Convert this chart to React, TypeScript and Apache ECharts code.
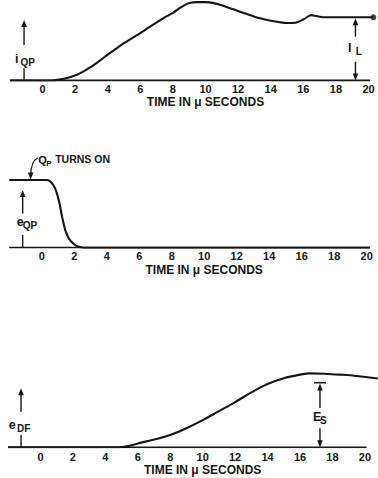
import React, { useEffect, useRef } from "react";
import * as echarts from "echarts";

// ---------------- data ----------------
const TIME_TICKS = [0, 2, 4, 6, 8, 10, 12, 14, 16, 18, 20];
const X_TITLE = "TIME IN \u03bc SECONDS";

// Panel 1: transistor current i_QP, normalised to the load current I_L = 1
const T_IQP = [-2, 0.6, 1, 1.5, 2, 2.5, 3, 3.5, 4, 4.5, 5, 5.5, 6, 6.5, 7, 7.5, 8, 8.5, 9, 9.5, 10, 10.5, 11, 11.5, 12, 12.5, 13, 13.5, 14, 14.5, 15, 15.5, 16, 16.5, 16.8, 17.2, 20.3];
const I_QP = [0, 0, 0.015, 0.04, 0.08, 0.14, 0.22, 0.31, 0.41, 0.5, 0.59, 0.67, 0.75, 0.835, 0.92, 1.0, 1.07, 1.16, 1.225, 1.24, 1.24, 1.225, 1.19, 1.145, 1.1, 1.055, 1.01, 0.975, 0.945, 0.925, 0.91, 0.915, 0.965, 1.035, 1.02, 1.0, 1.0];

// Panel 2: transistor voltage e_QP, normalised to its off-state value
const T_EQP = [-2, 0.3, 0.5, 0.7, 0.9, 1.1, 1.25, 1.45, 1.6, 1.75, 2.0, 2.2, 2.6, 20.2];
const E_QP = [1, 1, 0.985, 0.93, 0.83, 0.65, 0.46, 0.26, 0.17, 0.11, 0.05, 0.02, 0, 0];

// Panel 3: diode voltage e_DF, normalised to the supply E_S = 1
const T_EDF = [-2, 4.8, 5.5, 6, 7, 8, 9, 10, 11, 12, 13, 14, 15, 16, 16.6, 17.5, 18.5, 19.5, 20.8];
const E_DF = [0, 0, 0.025, 0.06, 0.12, 0.19, 0.295, 0.42, 0.56, 0.7, 0.85, 0.98, 1.07, 1.125, 1.145, 1.14, 1.125, 1.105, 1.065];

const I_L = 1;
const E_S = 1;
const IL_AT = 19.2;
const ES_AT = 17.23;
const TURN_ON_AT = -0.68;
const BASE_START = -2;
const BASE_END = [20.1, 20.2, 20.1];

// ---------------- styling helpers ----------------
const INK = "#161616";
const FONT = "'Liberation Sans', Arial, sans-serif";
const LW = 1.4;

const zip = (t: number[], v: number[]) => t.map((x, i) => [x, v[i]]);

function vline(x: number, y1: number, y2: number) {
  return { type: "line", shape: { x1: x, y1, x2: x, y2 }, style: { stroke: INK, lineWidth: LW } };
}
function head(x: number, tipY: number, dir: "up" | "down") {
  const h = 7, w = 2.8;
  const by = dir === "up" ? tipY + h : tipY - h;
  return { type: "polygon", shape: { points: [[x, tipY], [x - w, by], [x + w, by]] }, style: { fill: INK } };
}
function text(x: number, y: number, s: string, size: number, align = "left") {
  return {
    type: "text",
    style: { x, y, text: s, fill: INK, font: `bold ${size}px ${FONT}`, align, verticalAlign: "middle" },
  };
}
function subLabel(x: number, lc: number, main: string, sub: string, subDx: number) {
  return [text(x, lc - 1.5, main, 12.5), text(x + subDx, lc + 2, sub, 10)];
}
function yArrow(api: any, t: number, vTip: number, vLabel: number, upGap: number, downGap: number,
  main: string, sub: string, dx: number, subDx: number) {
  const [x, base] = api.coord([t, 0]);
  const tip = api.coord([t, vTip])[1];
  const lc = api.coord([t, vLabel])[1];
  return [
    vline(x, tip + 3, lc - upGap),
    head(x, tip, "up"),
    vline(x, lc + downGap, base),
    ...subLabel(x + dx, lc, main, sub, subDx),
  ];
}
function title(api: any, offset: number) {
  const [x, y] = api.coord([10, 0]);
  return text(x, y + offset, X_TITLE, 12, "center");
}

// ---------------- component ----------------
export default function App() {
  const ref = useRef<HTMLDivElement>(null);
  useEffect(() => {
    if (!ref.current) return;
    const chart = echarts.init(ref.current, undefined, { renderer: "svg" });

    const grids = [
      { left: 9.9, right: 1.35, top: 0, height: 80.5 },
      { left: 9.2, right: 3.2, top: 166.5, height: 81.2 },
      { left: 8.06, right: 0.14, top: 369.8, height: 77.5 },
    ];
    const xMax = [20.5, 20.5, 20.8];
    const yMax = [1.274, 1.2, 1.2];
    const margins = [3, 3, 4];

    const xAxes = grids.map((_, i) => ({
      type: "value",
      gridIndex: i,
      min: -2,
      max: xMax[i],
      interval: 2,
      axisLine: { show: false },
      axisTick: { show: false },
      splitLine: { show: false },
      axisLabel: {
        customValues: TIME_TICKS,
        formatter: (v: number) => (TIME_TICKS.includes(v) ? String(v) : ""),
        margin: margins[i],
        color: INK,
        fontSize: 11,
        fontWeight: "bold",
        fontFamily: FONT,
      },
    }));
    const yAxes = grids.map((_, i) => ({
      type: "value", gridIndex: i, min: 0, max: yMax[i], show: false, splitLine: { show: false },
    }));

    const curve = (i: number, data: number[][]) => ({
      type: "line", xAxisIndex: i, yAxisIndex: i, data, showSymbol: false, smooth: 0.35,
      lineStyle: { color: INK, width: 2.1 }, silent: true,
    });
    const baseline = (i: number) => ({
      type: "line", xAxisIndex: i, yAxisIndex: i, showSymbol: false,
      data: [[BASE_START, 0], [BASE_END[i], 0]],
      lineStyle: { color: INK, width: 1.8 }, silent: true,
    });

    const series: any[] = [
      baseline(0), baseline(1), baseline(2),
      curve(0, zip(T_IQP, I_QP)),
      curve(1, zip(T_EQP, E_QP)),
      curve(2, zip(T_EDF, E_DF)),
      {
        type: "scatter", xAxisIndex: 0, yAxisIndex: 0, silent: true,
        data: [[T_IQP[T_IQP.length - 1], I_QP[I_QP.length - 1]]],
        symbol: "circle", symbolSize: 6, itemStyle: { color: INK },
      },
      // panel 1 annotations
      {
        type: "custom", xAxisIndex: 0, yAxisIndex: 0, silent: true, data: [[0, 0]],
        renderItem: (_p: any, api: any) => {
          const [x, base] = api.coord([IL_AT, 0]);
          const top = api.coord([IL_AT, I_L])[1] + 1;
          const lc = api.coord([IL_AT, 0.498])[1];
          return {
            type: "group",
            children: [
              ...yArrow(api, -1.13, 0.957, 0.324, 15, 8.3, "i", "QP", -9, 5.5),
              head(x, top, "up"), vline(x, top + 3, lc - 12.3),
              vline(x, lc + 12.7, base - 3), head(x, base, "down"),
              ...subLabel(x - 7.5, lc, "I", "L", 7.7),
              title(api, 21.8),
            ],
          };
        },
      },
      // panel 2 annotations
      {
        type: "custom", xAxisIndex: 1, yAxisIndex: 1, silent: true, data: [[0, 0]],
        renderItem: (_p: any, api: any) => {
          const [tx, ty] = api.coord([TURN_ON_AT, 1]);
          return {
            type: "group",
            children: [
              ...yArrow(api, -1.17, 0.852, 0.357, 10, 11.5, "e", "QP", -6, 6),
              {
                type: "bezierCurve",
                shape: { x1: tx + 7, y1: ty - 22, cpx1: tx + 0.5, cpy1: ty - 19, x2: tx, y2: ty - 5 },
                style: { stroke: INK, lineWidth: 1.3, fill: "none" },
              },
              head(tx, ty - 0.5, "down"),
              text(tx + 7.5, ty - 20, "Q", 11),
              text(tx + 15.5, ty - 16.5, "P", 8),
              text(tx + 24.5, ty - 21.5, "TURNS ON", 10.5),
              title(api, 22),
            ],
          };
        },
      },
      // panel 3 annotations
      {
        type: "custom", xAxisIndex: 2, yAxisIndex: 2, silent: true, data: [[0, 0]],
        renderItem: (_p: any, api: any) => {
          const [x, base] = api.coord([ES_AT, 0]);
          const top = api.coord([ES_AT, E_S])[1];
          const lc = api.coord([ES_AT, 0.443])[1];
          return {
            type: "group",
            children: [
              ...yArrow(api, -1.2, 0.913, 0.325, 14.6, 8.7, "e", "DF", -12.4, 8.4),
              { type: "line", shape: { x1: x - 6, y1: top, x2: x + 6, y2: top }, style: { stroke: INK, lineWidth: 1.5 } },
              head(x, top + 0.8, "up"), vline(x, top + 3, lc - 10.7),
              vline(x, lc + 9.6, base - 3), head(x, base, "down"),
              ...subLabel(x - 7, lc, "E", "S", 7),
              title(api, 22.9),
            ],
          };
        },
      },
    ];

    chart.setOption({
      animation: false,
      backgroundColor: "#ffffff",
      grid: grids,
      xAxis: xAxes,
      yAxis: yAxes,
      series,
    });
    return () => chart.dispose();
  }, []);

  return (
    <div
      ref={ref}
      style={{ position: "absolute", left: 0, top: 0, width: 378, height: 478, background: "#fff" }}
    />
  );
}
